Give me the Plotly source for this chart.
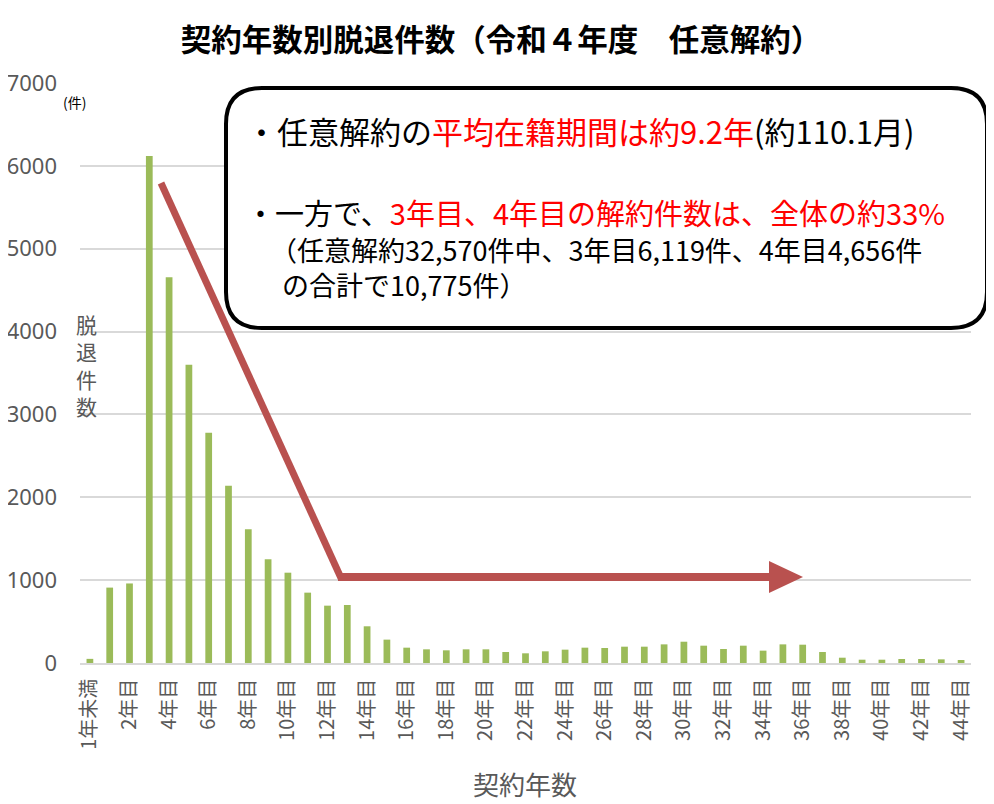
import plotly.graph_objects as go

# --- data ---------------------------------------------------------------
years = ["1年未満"] + [f"{i}年目" for i in range(1, 45)]
counts = [50, 910, 960, 6119, 4656, 3600, 2780, 2140, 1615, 1252,
          1090, 849, 692, 700, 443, 282, 185, 165, 153, 165,
          165, 133, 117, 141, 161, 185, 181, 197, 197, 225,
          257, 209, 169, 209, 149, 225, 221, 133, 64, 40,
          40, 48, 48, 44, 36]
tick_labels = years[::2]
y_ticks = [0, 1000, 2000, 3000, 4000, 5000, 6000, 7000]

TITLE = "契約年数別脱退件数（令和４年度　任意解約）"
FONT = "Noto Sans CJK JP, Noto Sans, sans-serif"
GREY = "#595959"
RED_TXT = "#FF0000"
ARROW = "#B9514F"

# page body has an 8px margin, so the figure is drawn 8px smaller
OFF = 8
FW, FH = 994 - OFF, 804 - OFF
# plot area in screen pixels (for placing the callout box / arrow)
L, R, T, B = 80, 971, 83, 663
W, H = R - L, B - T


def px(x):
    return (x - L) / W


def py(y):
    return (B - y) / H


fig = go.Figure()
fig.add_trace(go.Bar(x=years, y=counts, marker_color="#9BBB59",
                     marker_line_width=0, hoverinfo="x+y"))

# arrow: diagonal, shaft, head
fig.add_shape(type="line", xref="paper", yref="paper",
              x0=px(161), y0=py(183), x1=px(341), y1=py(578),
              line=dict(color=ARROW, width=7))
fig.add_shape(type="line", xref="paper", yref="paper",
              x0=px(338), y0=py(577), x1=px(772), y1=py(577),
              line=dict(color=ARROW, width=8))
fig.add_shape(type="path", xref="paper", yref="paper",
              path=f"M {px(769)} {py(561)} L {px(803)} {py(577)} L {px(769)} {py(593)} Z",
              fillcolor=ARROW, line=dict(width=0))

# rounded callout box
x0, x1, y0, y1, r = 226, 987, 88, 328, 36
path = (f"M {px(x0 + r)} {py(y0)} L {px(x1 - r)} {py(y0)} "
        f"Q {px(x1)} {py(y0)} {px(x1)} {py(y0 + r)} "
        f"L {px(x1)} {py(y1 - r)} Q {px(x1)} {py(y1)} {px(x1 - r)} {py(y1)} "
        f"L {px(x0 + r)} {py(y1)} Q {px(x0)} {py(y1)} {px(x0)} {py(y1 - r)} "
        f"L {px(x0)} {py(y0 + r)} Q {px(x0)} {py(y0)} {px(x0 + r)} {py(y0)} Z")
fig.add_shape(type="path", xref="paper", yref="paper", path=path,
              fillcolor="white", line=dict(color="black", width=4))


def note(x, y, text, size, color="black", anchor="left", **kw):
    fig.add_annotation(xref="paper", yref="paper", x=px(x), y=py(y), text=text,
                       showarrow=False, xanchor=anchor, yanchor="middle",
                       font=dict(family=FONT, size=size, color=color), **kw)


note(244, 130, f"・任意解約の<span style='color:{RED_TXT}'>平均在籍期間は約9.2年</span>(約110.1月)", 31)
note(244, 212, f"・一方で、<span style='color:{RED_TXT}'>3年目、4年目の解約件数は、全体の約33%</span>", 29)
note(268, 267, "（任意解約32,570件中、3年目6,119件、4年目4,656件<br>"
               "\u00a0\u00a0の合計で10,775件）", 27, align="left")

# axis captions (vertical stacked y title)
note(86.5, 365, "<br>".join("脱退件数"), 21, GREY, "center")
note(74, 102, "(件)", 14, "black", "center")
note(525, 783, "契約年数", 26, GREY, "center")

fig.update_layout(
    width=FW, height=FH,
    margin=dict(l=L - OFF, r=FW - (R - OFF), t=T - OFF, b=FH - (B - OFF)),
    paper_bgcolor="white", plot_bgcolor="white",
    showlegend=False, bargap=0.66,
    font=dict(family=FONT, color=GREY),
    title=dict(text=f"<b>{TITLE}</b>", x=0.5, xanchor="center",
               y=1 - (40 - OFF) / FH, yanchor="middle",
               font=dict(family=FONT, size=30.5, color="black")),
    xaxis=dict(type="category", tickmode="array", tickvals=tick_labels,
               ticktext=tick_labels, tickangle=-90, showgrid=False,
               showline=True, linecolor="#D9D9D9", linewidth=1.5,
               ticks="", ticklabelstandoff=6, automargin=False,
               tickfont=dict(family=FONT, size=20, color=GREY)),
    yaxis=dict(range=[0, 7000], tickvals=y_ticks, showgrid=True,
               gridcolor="#D9D9D9", gridwidth=1.5, zeroline=False,
               showline=False, ticks="", ticklabelstandoff=22,
               automargin=False,
               tickfont=dict(family="Noto Sans, sans-serif", size=22, color=GREY)),
)

fig.write_html("out.html")
